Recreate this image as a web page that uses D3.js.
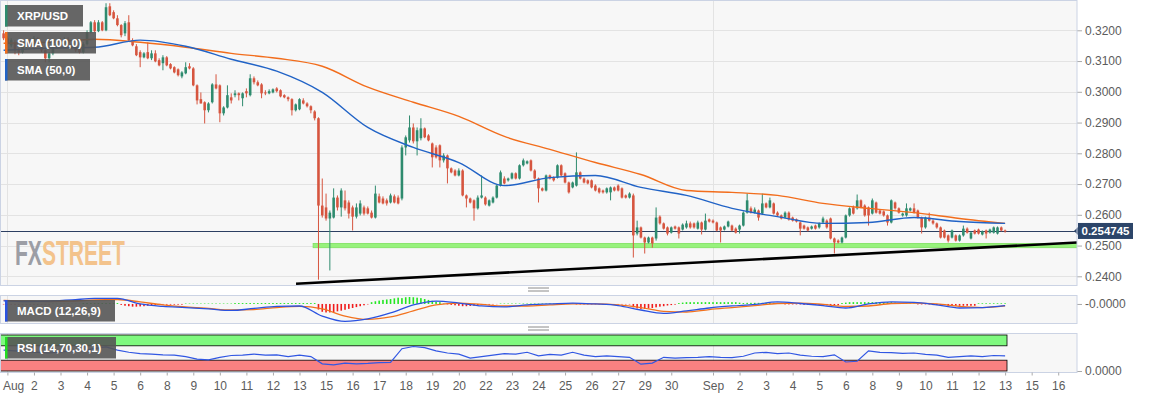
<!DOCTYPE html>
<html>
<head>
<meta charset="utf-8">
<script src="https://cdnjs.cloudflare.com/ajax/libs/d3/7.8.5/d3.min.js"></script>
<style>
	body { margin: 0; background: #fff; }
	text { font-family: "Liberation Sans", Arial, sans-serif; }
</style>
</head>
<body>
<script>

// ---- data (4h candles, XRP/USD) ----
var candleStart = "2019-07-31 20:00";
var candleHours = 4;

// [open, high, low, close]
var ohlc = [
[0.3190,0.3200,0.3168,0.3174],[0.3174,0.3181,0.3151,0.3158],[0.3151,0.3174,0.3145,0.3168],[0.3161,0.3168,0.3122,0.3135],
[0.3135,0.3142,0.3119,0.3129],[0.3129,0.3155,0.3125,0.3148],[0.3148,0.3168,0.3142,0.3161],[0.3161,0.3174,0.3145,0.3151],
[0.3151,0.3181,0.3148,0.3174],[0.3174,0.3177,0.3148,0.3155],[0.3155,0.3158,0.3129,0.3135],[0.3135,0.3138,0.3096,0.3109],
[0.3109,0.3129,0.3096,0.3125],[0.3125,0.3151,0.3119,0.3148],[0.3148,0.3168,0.3142,0.3161],[0.3161,0.3174,0.3148,0.3155],
[0.3155,0.3177,0.3151,0.3171],[0.3168,0.3177,0.3155,0.3158],[0.3158,0.3161,0.3138,0.3145],[0.3145,0.3151,0.3129,0.3135],
[0.3142,0.3148,0.3125,0.3129],[0.3129,0.3161,0.3125,0.3155],[0.3155,0.3200,0.3151,0.3194],[0.3194,0.3230,0.3190,0.3226],
[0.3226,0.3233,0.3194,0.3197],[0.3197,0.3233,0.3194,0.3226],[0.3226,0.3230,0.3197,0.3200],[0.3200,0.3288,0.3197,0.3275],
[0.3278,0.3288,0.3246,0.3249],[0.3259,0.3265,0.3236,0.3239],[0.3239,0.3249,0.3213,0.3217],[0.3217,0.3220,0.3177,0.3184],
[0.3190,0.3230,0.3181,0.3223],[0.3226,0.3249,0.3164,0.3168],[0.3168,0.3174,0.3148,0.3151],[0.3148,0.3155,0.3116,0.3119],
[0.3129,0.3135,0.3080,0.3112],[0.3112,0.3129,0.3109,0.3125],[0.3129,0.3161,0.3106,0.3109],[0.3109,0.3135,0.3103,0.3125],
[0.3125,0.3135,0.3096,0.3099],[0.3103,0.3109,0.3083,0.3086],[0.3093,0.3119,0.3070,0.3112],[0.3112,0.3116,0.3083,0.3086],
[0.3090,0.3093,0.3073,0.3076],[0.3080,0.3083,0.3060,0.3063],[0.3073,0.3076,0.3050,0.3054],[0.3050,0.3067,0.3044,0.3063],
[0.3060,0.3096,0.3057,0.3080],[0.3083,0.3093,0.3073,0.3076],[0.3076,0.3080,0.3018,0.3021],[0.3021,0.3024,0.2959,0.2972],
[0.2976,0.2998,0.2962,0.2962],[0.2966,0.2969,0.2897,0.2940],[0.2940,0.2966,0.2933,0.2962],[0.2966,0.3028,0.2962,0.3024],
[0.3024,0.3057,0.3008,0.3011],[0.3021,0.3024,0.2901,0.2930],[0.2930,0.2953,0.2923,0.2949],[0.2949,0.3021,0.2946,0.2989],
[0.2982,0.2995,0.2962,0.2972],[0.2989,0.3005,0.2982,0.2995],[0.2995,0.2998,0.2972,0.2989],[0.2979,0.2998,0.2953,0.2995],
[0.3002,0.3011,0.2982,0.2995],[0.2989,0.3057,0.2985,0.3044],[0.3044,0.3050,0.3024,0.3031],[0.3031,0.3037,0.3018,0.3021],
[0.3024,0.3028,0.2979,0.2995],[0.2998,0.3005,0.2989,0.2995],[0.2995,0.3008,0.2992,0.3002],[0.2998,0.3011,0.2995,0.3008],
[0.3011,0.3015,0.2998,0.3002],[0.3005,0.3008,0.2982,0.2985],[0.2989,0.2992,0.2979,0.2982],[0.2982,0.2985,0.2969,0.2976],
[0.2976,0.2979,0.2923,0.2940],[0.2940,0.2962,0.2936,0.2959],[0.2943,0.2979,0.2940,0.2976],[0.2972,0.2979,0.2959,0.2962],
[0.2962,0.2966,0.2949,0.2953],[0.2953,0.2956,0.2930,0.2940],[0.2936,0.2940,0.2907,0.2914],[0.2914,0.2917,0.2389,0.2630],
[0.2630,0.2718,0.2591,0.2598],[0.2624,0.2669,0.2581,0.2588],[0.2588,0.2614,0.2419,0.2607],[0.2591,0.2686,0.2588,0.2656],
[0.2656,0.2663,0.2614,0.2624],[0.2624,0.2686,0.2594,0.2679],[0.2647,0.2679,0.2614,0.2621],[0.2640,0.2647,0.2588,0.2604],
[0.2624,0.2630,0.2549,0.2594],[0.2594,0.2637,0.2588,0.2624],[0.2604,0.2647,0.2598,0.2637],[0.2624,0.2630,0.2598,0.2604],
[0.2621,0.2627,0.2601,0.2604],[0.2607,0.2614,0.2588,0.2591],[0.2591,0.2695,0.2588,0.2669],[0.2660,0.2669,0.2637,0.2640],
[0.2653,0.2660,0.2634,0.2637],[0.2647,0.2653,0.2630,0.2637],[0.2640,0.2669,0.2637,0.2663],[0.2660,0.2666,0.2637,0.2640],
[0.2656,0.2663,0.2634,0.2637],[0.2653,0.2826,0.2647,0.2819],[0.2819,0.2858,0.2793,0.2852],[0.2842,0.2923,0.2835,0.2884],
[0.2884,0.2897,0.2832,0.2839],[0.2839,0.2884,0.2793,0.2875],[0.2849,0.2914,0.2842,0.2881],[0.2881,0.2884,0.2849,0.2852],
[0.2858,0.2862,0.2839,0.2842],[0.2832,0.2835,0.2754,0.2787],[0.2819,0.2826,0.2783,0.2787],[0.2826,0.2829,0.2754,0.2777],
[0.2777,0.2800,0.2770,0.2793],[0.2793,0.2796,0.2702,0.2751],[0.2751,0.2754,0.2735,0.2738],[0.2744,0.2748,0.2725,0.2728],
[0.2728,0.2751,0.2725,0.2744],[0.2744,0.2748,0.2660,0.2663],[0.2663,0.2666,0.2624,0.2653],[0.2653,0.2656,0.2637,0.2640],
[0.2647,0.2650,0.2581,0.2621],[0.2621,0.2663,0.2617,0.2656],[0.2656,0.2728,0.2653,0.2663],[0.2656,0.2660,0.2630,0.2634],
[0.2630,0.2650,0.2627,0.2647],[0.2640,0.2660,0.2637,0.2656],[0.2656,0.2699,0.2653,0.2695],[0.2695,0.2744,0.2692,0.2738],
[0.2718,0.2725,0.2699,0.2702],[0.2712,0.2721,0.2708,0.2718],[0.2718,0.2738,0.2715,0.2735],[0.2735,0.2738,0.2715,0.2718],
[0.2718,0.2764,0.2715,0.2761],[0.2761,0.2783,0.2757,0.2777],[0.2767,0.2777,0.2764,0.2774],[0.2777,0.2780,0.2741,0.2744],
[0.2744,0.2748,0.2715,0.2718],[0.2718,0.2721,0.2640,0.2686],[0.2686,0.2689,0.2676,0.2679],[0.2679,0.2731,0.2676,0.2728],
[0.2728,0.2731,0.2715,0.2718],[0.2721,0.2725,0.2708,0.2712],[0.2721,0.2764,0.2718,0.2761],[0.2761,0.2764,0.2725,0.2728],
[0.2735,0.2738,0.2702,0.2705],[0.2705,0.2708,0.2669,0.2673],[0.2689,0.2708,0.2686,0.2705],[0.2695,0.2803,0.2692,0.2738],
[0.2738,0.2741,0.2715,0.2718],[0.2718,0.2721,0.2702,0.2705],[0.2712,0.2715,0.2699,0.2702],[0.2712,0.2715,0.2686,0.2689],
[0.2695,0.2699,0.2676,0.2679],[0.2686,0.2689,0.2669,0.2673],[0.2679,0.2682,0.2669,0.2673],[0.2673,0.2689,0.2669,0.2686],
[0.2673,0.2692,0.2647,0.2689],[0.2689,0.2692,0.2676,0.2679],[0.2695,0.2699,0.2676,0.2679],[0.2686,0.2689,0.2653,0.2656],
[0.2663,0.2666,0.2653,0.2656],[0.2656,0.2673,0.2653,0.2669],[0.2663,0.2669,0.2461,0.2533],[0.2539,0.2581,0.2533,0.2559],
[0.2559,0.2562,0.2523,0.2526],[0.2526,0.2529,0.2474,0.2510],[0.2510,0.2529,0.2507,0.2526],[0.2526,0.2529,0.2493,0.2507],
[0.2523,0.2624,0.2516,0.2591],[0.2594,0.2598,0.2568,0.2572],[0.2572,0.2575,0.2552,0.2555],[0.2559,0.2562,0.2533,0.2539],
[0.2542,0.2562,0.2539,0.2559],[0.2562,0.2565,0.2552,0.2555],[0.2559,0.2562,0.2523,0.2539],[0.2552,0.2572,0.2549,0.2568],
[0.2559,0.2581,0.2555,0.2572],[0.2572,0.2578,0.2555,0.2559],[0.2572,0.2575,0.2555,0.2559],[0.2555,0.2581,0.2552,0.2575],
[0.2575,0.2578,0.2536,0.2552],[0.2552,0.2604,0.2549,0.2581],[0.2585,0.2588,0.2575,0.2578],[0.2581,0.2585,0.2572,0.2575],
[0.2575,0.2578,0.2546,0.2549],[0.2559,0.2562,0.2510,0.2549],[0.2552,0.2565,0.2549,0.2562],[0.2562,0.2581,0.2559,0.2578],
[0.2565,0.2568,0.2546,0.2549],[0.2555,0.2559,0.2539,0.2542],[0.2552,0.2568,0.2539,0.2565],[0.2565,0.2611,0.2562,0.2607],
[0.2607,0.2669,0.2604,0.2647],[0.2621,0.2627,0.2604,0.2607],[0.2607,0.2624,0.2604,0.2617],[0.2614,0.2617,0.2581,0.2591],
[0.2604,0.2669,0.2601,0.2637],[0.2637,0.2640,0.2621,0.2624],[0.2624,0.2656,0.2621,0.2647],[0.2637,0.2640,0.2601,0.2604],
[0.2607,0.2611,0.2594,0.2598],[0.2598,0.2601,0.2585,0.2588],[0.2591,0.2611,0.2588,0.2607],[0.2607,0.2611,0.2581,0.2585],
[0.2591,0.2594,0.2578,0.2581],[0.2585,0.2588,0.2575,0.2578],[0.2575,0.2578,0.2533,0.2555],[0.2565,0.2568,0.2552,0.2555],
[0.2559,0.2562,0.2546,0.2549],[0.2555,0.2565,0.2552,0.2562],[0.2565,0.2568,0.2552,0.2555],[0.2559,0.2575,0.2555,0.2572],
[0.2575,0.2594,0.2572,0.2588],[0.2581,0.2585,0.2555,0.2559],[0.2588,0.2591,0.2520,0.2523],[0.2523,0.2526,0.2474,0.2510],
[0.2516,0.2520,0.2507,0.2510],[0.2510,0.2529,0.2507,0.2526],[0.2526,0.2601,0.2523,0.2598],[0.2598,0.2624,0.2594,0.2621],
[0.2624,0.2630,0.2601,0.2604],[0.2621,0.2666,0.2617,0.2647],[0.2647,0.2650,0.2621,0.2624],[0.2630,0.2634,0.2594,0.2598],
[0.2624,0.2627,0.2565,0.2598],[0.2604,0.2653,0.2601,0.2647],[0.2640,0.2643,0.2604,0.2607],[0.2614,0.2617,0.2601,0.2604],
[0.2611,0.2614,0.2594,0.2598],[0.2598,0.2601,0.2565,0.2575],[0.2575,0.2650,0.2572,0.2647],[0.2640,0.2643,0.2617,0.2621],
[0.2621,0.2624,0.2604,0.2607],[0.2598,0.2607,0.2594,0.2604],[0.2598,0.2637,0.2594,0.2621],[0.2614,0.2624,0.2611,0.2621],
[0.2621,0.2637,0.2604,0.2607],[0.2614,0.2617,0.2588,0.2591],[0.2591,0.2594,0.2539,0.2559],[0.2559,0.2594,0.2555,0.2591],
[0.2591,0.2607,0.2578,0.2581],[0.2581,0.2585,0.2568,0.2572],[0.2572,0.2575,0.2555,0.2559],[0.2559,0.2562,0.2523,0.2526],
[0.2549,0.2552,0.2523,0.2526],[0.2533,0.2536,0.2510,0.2516],[0.2526,0.2552,0.2523,0.2549],[0.2533,0.2536,0.2513,0.2516],
[0.2516,0.2536,0.2513,0.2533],[0.2533,0.2565,0.2529,0.2555],[0.2555,0.2559,0.2539,0.2542],[0.2523,0.2546,0.2520,0.2542],
[0.2549,0.2552,0.2536,0.2539],[0.2552,0.2555,0.2536,0.2539],[0.2536,0.2549,0.2533,0.2546],[0.2549,0.2552,0.2523,0.2539],
[0.2542,0.2555,0.2539,0.2552],[0.2542,0.2562,0.2539,0.2559],[0.2539,0.2562,0.2536,0.2559],[0.2559,0.2562,0.2546,0.2549],
[0.2549,0.2552,0.2542,0.2546]
];

// moving averages, one value every 12 candles
var smaStep = 12;
var sma50 = [0.3135,0.3142,0.3145,0.3168,0.3148,0.3106,0.3067,0.2998,0.2884,0.2819,0.2770,0.2695,
             0.2721,0.2728,0.2689,0.2663,0.2621,0.2594,0.2572,0.2575,0.2591,0.2578,0.2572];
var sma100 = [0.3158,0.3161,0.3171,0.3161,0.3145,0.3125,0.3109,0.3083,0.3015,0.2966,0.2920,0.2855,
              0.2813,0.2770,0.2731,0.2679,0.2673,0.2663,0.2637,0.2621,0.2607,0.2588,0.2572];

// MACD lines, one value every 6 candles
var macdStep = 6;
var macdLine = [0.0014,0.0011,0.0013,0.0018,0.0025,0.0025,0,-0.0011,-0.0016,-0.0022,-0.0029,-0.0020,-0.0011,-0.0009,
	-0.0054,-0.0078,-0.0067,-0.0040,-0.0004,0.0013,0.0004,-0.0009,-0.0013,-0.0004,0,0.0004,0,-0.0007,-0.0027,-0.0042,
	-0.0031,-0.0018,-0.0009,-0.0002,0.0009,0.0002,-0.0007,-0.0018,0,0.0009,0.0007,-0.0004,-0.0018,-0.0016,-0.0007];
var signalLine = [0.0016,0.0013,0.0011,0.0013,0.0018,0.0020,0.0009,-0.0004,-0.0013,-0.0020,-0.0027,-0.0025,-0.0016,-0.0011,
	-0.0022,-0.0054,-0.0069,-0.0058,-0.0031,-0.0004,0.0004,-0.0002,-0.0009,-0.0009,-0.0004,0,0,-0.0004,-0.0016,-0.0033,
	-0.0036,-0.0025,-0.0016,-0.0007,0.0002,0.0004,-0.0002,-0.0011,-0.0009,0.0002,0.0004,0,-0.0011,-0.0016,-0.0009];

// MACD histogram, one per candle
var macdHist = [
-0.0002,-0.0002,-0.0002,-0.0002,-0.0002,-0.0002,-0.0002,-0.0002,-0.0002,-0.0002,-0.0002,-0.0002,-0.0002,
0.0001,0.0001,0.0001,0.0001,0.0001,0.0001,0.0001,0.0001,
0.0004,0.0004,0.0004,0.0004,0.0004,0.0004,0.0004,0.0004,0.0004,0.0004,
-0.0004,-0.0008,-0.0010,-0.0012,-0.0012,-0.0011,-0.0010,-0.0008,-0.0006,-0.0005,-0.0004,
-0.0003,-0.0003,-0.0003,-0.0003,-0.0003,-0.0003,
0.0002,0.0002,0.0002,0.0002,0.0002,0.0002,0.0002,0.0002,0.0002,0.0002,0.0002,0.0002,0.0002,
0.0004,0.0004,0.0004,0.0004,0.0004,0.0004,0.0004,0.0004,0.0004,0.0004,0.0004,
0.0004,0.0004,0.0004,0.0004,0.0004,0.0004,0.0004,0.0004,0.0004,0.0004,0.0004,
-0.0025,-0.0035,-0.0038,-0.0038,-0.0036,-0.0033,-0.0030,-0.0026,-0.0022,-0.0018,-0.0014,-0.0010,-0.0006,-0.0002,
0.0008,0.0012,0.0015,0.0018,0.0020,0.0022,0.0025,0.0028,
0.0026,0.0030,0.0031,0.0030,0.0028,0.0026,0.0022,0.0018,0.0014,0.0010,
0.0008,0.0002,-0.0002,-0.0004,-0.0006,-0.0008,-0.0010,-0.0010,-0.0009,-0.0008,-0.0006,-0.0005,-0.0004,-0.0003,-0.0002,-0.0001,
0.0002,0.0002,0.0002,0.0002,0.0002,0.0002,0.0002,0.0002,0.0002,0.0002,
0.0002,0.0002,0.0002,0.0002,0.0002,0.0002,0.0002,0.0002,0.0002,0.0002,
-0.0002,-0.0002,-0.0002,-0.0002,-0.0002,-0.0002,-0.0002,-0.0002,-0.0002,-0.0002,-0.0002,-0.0002,-0.0002,-0.0002,-0.0002,
-0.0015,-0.0020,-0.0022,-0.0022,-0.0020,-0.0018,-0.0015,-0.0012,-0.0010,-0.0007,-0.0005,-0.0003,
0.0004,0.0006,0.0008,0.0008,0.0008,0.0008,0.0008,0.0008,0.0008,0.0008,0.0008,0.0008,0.0008,0.0008,0.0008,0.0008,0.0006,0.0004,
0.0005,0.0005,0.0005,0.0005,0.0005,0.0005,0.0005,0.0005,0.0005,0.0005,
-0.0002,-0.0002,-0.0002,-0.0002,-0.0002,-0.0004,-0.0004,-0.0004,-0.0004,-0.0004,-0.0006,-0.0006,-0.0006,-0.0006,-0.0006,
0.0004,0.0006,0.0008,0.0008,0.0008,0.0008,0.0008,0.0008,0.0008,0.0008,0.0008,0.0008,0.0008,0.0008,0.0006,0.0004,
0.0002,0.0002,0.0002,0.0002,-0.0002,-0.0002,-0.0002,-0.0002,-0.0005,-0.0005,-0.0005,-0.0005,
-0.0008,-0.0008,-0.0008,-0.0008,-0.0008,-0.0008,-0.0008,-0.0008,
0.0003,0.0003,0.0003,0.0003,0.0003,0.0003,0.0003,0.0003
];

// RSI, one value every 3 candles
var rsiStep = 3;
var rsiValues = [58,56,54,52,50,53,55,56,63,67,58,52,48,47,45,44,40,33,31,38,43,44,47,44,45,40,44,40,20,17,
	22,20,21,23,24,62,68,65,56,50,47,36,40,44,48,47,52,42,46,44,52,44,40,42,40,38,19,22,38,36,
	37,38,40,38,37,41,50,52,48,50,44,41,40,45,25,27,56,52,51,49,50,46,44,38,40,42,40,43,42];
var rsiBands = [30, 70];

var lastPrice = 0.254745;
var priceTicks = [0.24, 0.25, 0.26, 0.27, 0.28, 0.29, 0.30, 0.31, 0.32];

var supportBand = [0.2493, 0.2507];
var supportStart = "2019-08-14 10:20";
var trendLine = [["2019-08-13 16:20", 0.2376], ["2019-09-17 00:00", 0.2510]];
var monthLines = ["2019-08-01 00:00", "2019-09-01 00:00"];

var tickTimes = ["2019-08-01 00:00","2019-08-02 04:00","2019-08-03 08:00","2019-08-04 12:00","2019-08-05 16:00",
	"2019-08-06 20:00","2019-08-08 00:00","2019-08-09 04:00","2019-08-10 08:00","2019-08-11 12:00","2019-08-12 16:00",
	"2019-08-13 20:00","2019-08-15 00:00","2019-08-16 04:00","2019-08-17 08:00","2019-08-18 12:00","2019-08-19 16:00",
	"2019-08-20 20:00","2019-08-22 00:00","2019-08-23 04:00","2019-08-24 08:00","2019-08-25 12:00","2019-08-26 16:00",
	"2019-08-27 20:00","2019-08-29 00:00","2019-08-30 04:00","2019-09-01 00:00","2019-09-02 04:00","2019-09-03 08:00",
	"2019-09-04 12:00","2019-09-05 16:00","2019-09-06 20:00","2019-09-08 00:00","2019-09-09 04:00","2019-09-10 08:00",
	"2019-09-11 12:00","2019-09-12 16:00","2019-09-13 20:00","2019-09-15 00:00","2019-09-16 04:00"];
var tickLabels = ["Aug","2","3","4","5","6","8","9","10","11","12","13","15","16","17","18","19","20","22","23","24",
	"25","26","27","29","30","Sep","2","3","4","5","6","8","9","10","11","12","13","15","16"];


// ---- layout ----
var WIDTH = 1153, HEIGHT = 398;
var PANEL_RIGHT = 1077;
var MAIN = {top: 0.5, bottom: 285.5};
var MACD = {top: 295.5, bottom: 323.5};
var RSI = {top: 333.5, bottom: 372.5};

var UP = "#2e8b6e", DOWN = "#d6553f";
var GRID = "#e3e3e3", BORDER = "#cbd3e4";
var FONT = "Liberation Sans, Arial, sans-serif";

var parse = d3.timeParse("%Y-%m-%d %H:%M");
var t0 = parse(candleStart);

function candleTime(i) { return d3.timeHour.offset(t0, i * candleHours); }

var x = d3.scaleTime()
	.domain([parse("2019-08-01 00:00"), parse("2019-09-01 00:00")])
	.range([7.4, 713]);

var y = d3.scaleLinear().domain([0.24, 0.32]).range([276.3, 30.3]);
var yMacd = d3.scaleLinear().domain([-0.0085, 0.004]).range([323, 295]);
var yRsi = d3.scaleLinear().domain([0, 100]).range([371, 335]);

var slotW = x(candleTime(1)) - x(candleTime(0));
var bodyW = slotW * 0.68;

var svg = d3.select("body").append("svg")
	.attr("width", WIDTH)
	.attr("height", HEIGHT);

var defs = svg.append("defs");
[["clipMain", MAIN], ["clipMacd", MACD], ["clipRsi", RSI]].forEach(function(c) {
	defs.append("clipPath").attr("id", c[0])
		.append("rect")
		.attr("x", 0.5).attr("y", c[1].top)
		.attr("width", PANEL_RIGHT - 0.5).attr("height", c[1].bottom - c[1].top);
});

// panel backgrounds
[MAIN, MACD, RSI].forEach(function(p) {
	svg.append("rect")
		.attr("x", 0.5).attr("y", p.top)
		.attr("width", PANEL_RIGHT - 0.5).attr("height", p.bottom - p.top)
		.attr("fill", "#f7f7f7");
});

// horizontal grid
svg.append("g").selectAll("line")
	.data(priceTicks)
	.enter().append("line")
	.attr("x1", 0).attr("x2", PANEL_RIGHT)
	.attr("y1", function(d) { return Math.round(y(d)) + 0.5; })
	.attr("y2", function(d) { return Math.round(y(d)) + 0.5; })
	.attr("stroke", GRID);

// month lines through all panels
[MAIN, MACD, RSI].forEach(function(p) {
	svg.append("g").selectAll("line")
		.data(monthLines)
		.enter().append("line")
		.attr("x1", function(d) { return Math.round(x(parse(d))) + 0.5; })
		.attr("x2", function(d) { return Math.round(x(parse(d))) + 0.5; })
		.attr("y1", p.top).attr("y2", p.bottom)
		.attr("stroke", GRID);
});

// watermark: one text, squeezed horizontally to the logo width
var wmGroup = svg.append("g");
var wm = wmGroup.append("text")
	.attr("x", 0).attr("y", 0)
	.attr("font-family", "DejaVu Sans Condensed, Liberation Sans Narrow, sans-serif")
	.attr("font-weight", "bold")
	.attr("font-size", 35);
wm.append("tspan").attr("fill", "#9c9ea5").text("FX");
wm.append("tspan").attr("fill", "#f3c38c").text("STREET");
var wmScale = 110 / wm.node().getComputedTextLength();
wmGroup.attr("transform", "translate(15,265) scale(" + wmScale + ",1)");

// ---- main panel ----
var main = svg.append("g").attr("clip-path", "url(#clipMain)");

// support band
main.append("rect")
	.attr("x", x(parse(supportStart)))
	.attr("y", y(supportBand[1]))
	.attr("width", PANEL_RIGHT - x(parse(supportStart)))
	.attr("height", y(supportBand[0]) - y(supportBand[1]))
	.attr("fill", "#97f27c")
	.attr("stroke", "#7fe060")
	.attr("stroke-width", 0.8);

// last price line
main.append("line")
	.attr("x1", 0).attr("x2", PANEL_RIGHT)
	.attr("y1", Math.round(y(lastPrice)) + 0.5)
	.attr("y2", Math.round(y(lastPrice)) + 0.5)
	.attr("stroke", "#2c3f62")
	.attr("stroke-width", 1.2);

// candles
var candle = main.append("g").selectAll("g")
	.data(ohlc)
	.enter().append("g");

candle.append("line")
	.attr("x1", function(d, i) { return x(candleTime(i)); })
	.attr("x2", function(d, i) { return x(candleTime(i)); })
	.attr("y1", function(d) { return y(d[1]); })
	.attr("y2", function(d) { return y(d[2]); })
	.attr("stroke", function(d) { return d[3] >= d[0] ? UP : DOWN; })
	.attr("stroke-width", 1);

candle.append("rect")
	.attr("x", function(d, i) { return x(candleTime(i)) - bodyW / 2; })
	.attr("y", function(d) { return y(Math.max(d[0], d[3])); })
	.attr("width", bodyW)
	.attr("height", function(d) { return Math.max(1, Math.abs(y(d[0]) - y(d[3]))); })
	.attr("fill", function(d) { return d[3] >= d[0] ? UP : DOWN; });

// moving averages
function smaLine(step) {
	return d3.line()
		.x(function(d, i) { return x(candleTime(i * step)); })
		.y(function(d) { return y(d); })
		.curve(d3.curveMonotoneX);
}

main.append("path")
	.datum(sma100)
	.attr("fill", "none")
	.attr("stroke", "#f26d1c")
	.attr("stroke-width", 1.4)
	.attr("d", smaLine(smaStep));

main.append("path")
	.datum(sma50)
	.attr("fill", "none")
	.attr("stroke", "#2163c6")
	.attr("stroke-width", 1.4)
	.attr("d", smaLine(smaStep));

// trend line
main.append("line")
	.attr("x1", x(parse(trendLine[0][0]))).attr("y1", y(trendLine[0][1]))
	.attr("x2", x(parse(trendLine[1][0]))).attr("y2", y(trendLine[1][1]))
	.attr("stroke", "#000")
	.attr("stroke-width", 2.6);

// price axis
var priceAxis = svg.append("g")
	.attr("transform", "translate(" + PANEL_RIGHT + ",0)")
	.call(d3.axisRight(y).tickValues(priceTicks).tickSize(5).tickFormat(d3.format(".4f")));
priceAxis.select(".domain").remove();

// last price tag
var tagY = y(lastPrice);
svg.append("rect")
	.attr("x", PANEL_RIGHT + 1).attr("y", tagY - 8)
	.attr("width", 55).attr("height", 16)
	.attr("fill", "#2c4569");
svg.append("path")
	.attr("d", "M" + (PANEL_RIGHT - 3) + "," + tagY + "L" + (PANEL_RIGHT + 1) + "," + (tagY - 4) +
		"L" + (PANEL_RIGHT + 1) + "," + (tagY + 4) + "Z")
	.attr("fill", "#2c4569");
svg.append("text")
	.attr("x", PANEL_RIGHT + 28.5).attr("y", tagY + 4)
	.attr("text-anchor", "middle")
	.attr("fill", "#fff")
	.attr("font-weight", "bold")
	.attr("font-size", 11.5)
	.text(lastPrice.toFixed(6));

// ---- MACD panel ----
var macd = svg.append("g").attr("clip-path", "url(#clipMacd)");

macd.append("g").selectAll("rect")
	.data(macdHist)
	.enter().append("rect")
	.attr("x", function(d, i) { return x(candleTime(i)) - 0.8; })
	.attr("y", function(d) { return Math.min(yMacd(d), yMacd(0)); })
	.attr("width", 1.6)
	.attr("height", function(d) { return Math.abs(yMacd(d) - yMacd(0)); })
	.attr("fill", function(d) { return d >= 0 ? "#22e622" : "#f01c1c"; });

var macdPath = d3.line()
	.x(function(d, i) { return x(candleTime(i * macdStep)); })
	.y(function(d) { return yMacd(d); })
	.curve(d3.curveMonotoneX);

macd.append("path").datum(signalLine)
	.attr("fill", "none").attr("stroke", "#f2721e").attr("stroke-width", 1.3)
	.attr("d", macdPath);
macd.append("path").datum(macdLine)
	.attr("fill", "none").attr("stroke", "#2a52e0").attr("stroke-width", 1.3)
	.attr("d", macdPath);

var macdAxis = svg.append("g")
	.attr("transform", "translate(" + PANEL_RIGHT + ",0)")
	.call(d3.axisRight(yMacd).tickValues([0]).tickSize(5).tickFormat(function() { return "-0.0000"; }));
macdAxis.select(".domain").remove();

// ---- RSI panel ----
var rsi = svg.append("g").attr("clip-path", "url(#clipRsi)");
var rsiEnd = x(candleTime(ohlc.length - 1)) + slotW / 2;

rsi.append("rect")
	.attr("x", 0.5).attr("y", yRsi(100))
	.attr("width", rsiEnd - 0.5).attr("height", yRsi(rsiBands[1]) - yRsi(100))
	.attr("fill", "#7ff97f").attr("stroke", "#000").attr("stroke-width", 0.8);
rsi.append("rect")
	.attr("x", 0.5).attr("y", yRsi(rsiBands[0]))
	.attr("width", rsiEnd - 0.5).attr("height", yRsi(0) - yRsi(rsiBands[0]))
	.attr("fill", "#f98181").attr("stroke", "#000").attr("stroke-width", 0.8);

rsi.append("path").datum(rsiValues)
	.attr("fill", "none").attr("stroke", "#3157e3").attr("stroke-width", 1.2)
	.attr("d", d3.line()
		.x(function(d, i) { return x(candleTime(i * rsiStep)); })
		.y(function(d) { return yRsi(d); }));

var rsiAxis = svg.append("g")
	.attr("transform", "translate(" + PANEL_RIGHT + ",0)")
	.call(d3.axisRight(yRsi).tickValues([0]).tickSize(5).tickFormat(function() { return "0.0000"; }));
rsiAxis.select(".domain").remove();

// panel borders
[MAIN, MACD, RSI].forEach(function(p) {
	svg.append("rect")
		.attr("x", 0.5).attr("y", p.top)
		.attr("width", PANEL_RIGHT - 0.5).attr("height", p.bottom - p.top)
		.attr("fill", "none")
		.attr("stroke", BORDER);
});

// resize handles between panels
[289.5, 328.5].forEach(function(hy) {
	[-1.5, 1.5].forEach(function(off) {
		svg.append("line")
			.attr("x1", 528).attr("x2", 549)
			.attr("y1", hy + off).attr("y2", hy + off)
			.attr("stroke", "#8a8a8a");
	});
});

// time axis
var timeAxis = svg.append("g")
	.attr("transform", "translate(0," + RSI.bottom + ")")
	.call(d3.axisBottom(x)
		.tickValues(tickTimes.map(parse))
		.tickSize(3)
		.tickFormat(function(d, i) { return tickLabels[i]; }));
timeAxis.select(".domain").remove();

// shared axis styling
svg.selectAll(".tick text")
	.attr("fill", "#5c5c5c")
	.attr("font-size", 12)
	.attr("font-family", FONT);
svg.selectAll(".tick line").attr("stroke", "#aaa");
timeAxis.selectAll(".tick text").attr("dy", "0.95em");

// first label sits flush left, as in the original
timeAxis.selectAll(".tick text")
	.filter(function(d, i) { return i === 0; })
	.attr("text-anchor", "start")
	.attr("x", -5);

// ---- legend boxes ----
var legends = [
	{label: "XRP/USD", color: "#2e8b6e", x: 5, y: 5, w: 78},
	{label: "SMA (100,0)", color: "#f26d1c", x: 5, y: 32, w: 91},
	{label: "SMA (50,0)", color: "#2163c6", x: 5, y: 59, w: 85},
	{label: "MACD (12,26,9)", color: "#2a52e0", x: 5, y: 300, w: 110},
	{label: "RSI (14,70,30,1)", color: "#22dd22", x: 5, y: 337, w: 111}
];

var legend = svg.append("g").selectAll("g")
	.data(legends)
	.enter().append("g")
	.attr("transform", function(d) { return "translate(" + d.x + "," + d.y + ")"; });

legend.append("rect")
	.attr("width", function(d) { return d.w; })
	.attr("height", 21.5)
	.attr("fill", "#555")
	.attr("fill-opacity", 0.9);

legend.append("rect")
	.attr("width", 2.5)
	.attr("height", 21.5)
	.attr("fill", function(d) { return d.color; });

legend.append("text")
	.attr("x", 12)
	.attr("y", 15)
	.attr("fill", "#fff")
	.attr("font-weight", "bold")
	.attr("font-size", 11.5)
	.text(function(d) { return d.label; });

</script>
</body>
</html>
